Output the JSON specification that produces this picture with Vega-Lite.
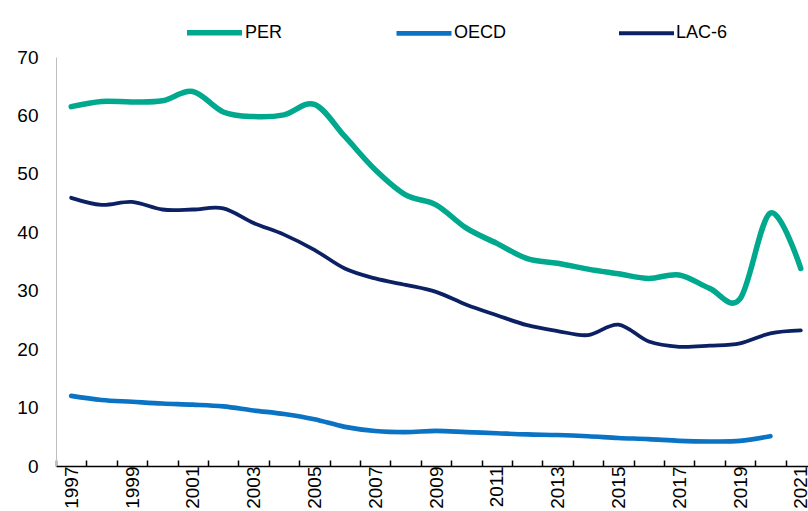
{
  "$schema": "https://vega.github.io/schema/vega-lite/v6.json",
  "width": 752,
  "height": 409,
  "autosize": "none",
  "padding": {"left": 56, "top": 57, "right": 0, "bottom": 45},
  "background": "white",
  "config": {
    "view": {"stroke": null},
    "font": "Liberation Sans Narrow, Liberation Sans, Arial Narrow, sans-serif"
  },
  "data": {
    "values": [
      {"year": 1997, "series": "PER", "value": 61.5},
      {"year": 1998, "series": "PER", "value": 62.4},
      {"year": 1999, "series": "PER", "value": 62.3},
      {"year": 2000, "series": "PER", "value": 62.5},
      {"year": 2001, "series": "PER", "value": 64.1},
      {"year": 2002, "series": "PER", "value": 60.6},
      {"year": 2003, "series": "PER", "value": 59.8},
      {"year": 2004, "series": "PER", "value": 60.1},
      {"year": 2005, "series": "PER", "value": 61.9},
      {"year": 2006, "series": "PER", "value": 56.4},
      {"year": 2007, "series": "PER", "value": 50.7},
      {"year": 2008, "series": "PER", "value": 46.4},
      {"year": 2009, "series": "PER", "value": 44.7},
      {"year": 2010, "series": "PER", "value": 40.7},
      {"year": 2011, "series": "PER", "value": 38.1},
      {"year": 2012, "series": "PER", "value": 35.5},
      {"year": 2013, "series": "PER", "value": 34.7},
      {"year": 2014, "series": "PER", "value": 33.7},
      {"year": 2015, "series": "PER", "value": 32.9},
      {"year": 2016, "series": "PER", "value": 32.1},
      {"year": 2017, "series": "PER", "value": 32.7},
      {"year": 2018, "series": "PER", "value": 30.4},
      {"year": 2019, "series": "PER", "value": 28.6},
      {"year": 2020, "series": "PER", "value": 43.3},
      {"year": 2021, "series": "PER", "value": 33.8},
      {"year": 1997, "series": "OECD", "value": 12.0},
      {"year": 1998, "series": "OECD", "value": 11.3},
      {"year": 1999, "series": "OECD", "value": 11.0},
      {"year": 2000, "series": "OECD", "value": 10.7},
      {"year": 2001, "series": "OECD", "value": 10.5},
      {"year": 2002, "series": "OECD", "value": 10.2},
      {"year": 2003, "series": "OECD", "value": 9.5},
      {"year": 2004, "series": "OECD", "value": 8.9},
      {"year": 2005, "series": "OECD", "value": 8.0},
      {"year": 2006, "series": "OECD", "value": 6.7},
      {"year": 2007, "series": "OECD", "value": 6.0},
      {"year": 2008, "series": "OECD", "value": 5.8},
      {"year": 2009, "series": "OECD", "value": 6.0},
      {"year": 2010, "series": "OECD", "value": 5.8},
      {"year": 2011, "series": "OECD", "value": 5.6},
      {"year": 2012, "series": "OECD", "value": 5.4},
      {"year": 2013, "series": "OECD", "value": 5.3},
      {"year": 2014, "series": "OECD", "value": 5.1},
      {"year": 2015, "series": "OECD", "value": 4.8},
      {"year": 2016, "series": "OECD", "value": 4.6},
      {"year": 2017, "series": "OECD", "value": 4.3},
      {"year": 2018, "series": "OECD", "value": 4.2},
      {"year": 2019, "series": "OECD", "value": 4.3},
      {"year": 2020, "series": "OECD", "value": 5.1},
      {"year": 1997, "series": "LAC-6", "value": 45.9},
      {"year": 1998, "series": "LAC-6", "value": 44.7},
      {"year": 1999, "series": "LAC-6", "value": 45.2},
      {"year": 2000, "series": "LAC-6", "value": 43.9},
      {"year": 2001, "series": "LAC-6", "value": 43.9},
      {"year": 2002, "series": "LAC-6", "value": 44.1},
      {"year": 2003, "series": "LAC-6", "value": 41.6},
      {"year": 2004, "series": "LAC-6", "value": 39.6},
      {"year": 2005, "series": "LAC-6", "value": 37.0},
      {"year": 2006, "series": "LAC-6", "value": 33.8},
      {"year": 2007, "series": "LAC-6", "value": 32.1},
      {"year": 2008, "series": "LAC-6", "value": 31.0},
      {"year": 2009, "series": "LAC-6", "value": 29.8},
      {"year": 2010, "series": "LAC-6", "value": 27.6},
      {"year": 2011, "series": "LAC-6", "value": 25.8},
      {"year": 2012, "series": "LAC-6", "value": 24.1},
      {"year": 2013, "series": "LAC-6", "value": 23.1},
      {"year": 2014, "series": "LAC-6", "value": 22.4},
      {"year": 2015, "series": "LAC-6", "value": 24.2},
      {"year": 2016, "series": "LAC-6", "value": 21.3},
      {"year": 2017, "series": "LAC-6", "value": 20.4},
      {"year": 2018, "series": "LAC-6", "value": 20.6},
      {"year": 2019, "series": "LAC-6", "value": 21.0},
      {"year": 2020, "series": "LAC-6", "value": 22.7},
      {"year": 2021, "series": "LAC-6", "value": 23.2}
    ]
  },
  "mark": {"type": "line", "interpolate": "cardinal", "strokeCap": "round", "strokeJoin": "round"},
  "encoding": {
    "x": {
      "field": "year",
      "type": "ordinal",
      "bandPosition": 0.5,
      "scale": {"type": "band", "paddingInner": 0, "paddingOuter": 0, "range": [0, 760]},
      "axis": {
        "title": null,
        "domainColor": "#000000",
        "domainWidth": 1.5,
        "tickColor": "#000000",
        "tickWidth": 1.5,
        "tickSize": -6,
        "tickBand": "extent",
        "labelAngle": 270,
        "labelAlign": "right",
        "labelBaseline": "middle",
        "labelPadding": 6,
        "labelFontSize": 19,
        "labelColor": "#000000",
        "labelExpr": "datum.value % 2 == 1 ? datum.label : ''"
      }
    },
    "y": {
      "field": "value",
      "type": "quantitative",
      "scale": {"domain": [0, 70], "nice": false, "zero": true},
      "axis": {
        "title": null,
        "values": [0, 10, 20, 30, 40, 50, 60, 70],
        "grid": false,
        "ticks": false,
        "domainColor": "#BFBFBF",
        "domainWidth": 1,
        "labelPadding": 18,
        "labelFontSize": 19,
        "labelColor": "#000000"
      }
    },
    "color": {
      "field": "series",
      "type": "nominal",
      "scale": {"domain": ["PER", "OECD", "LAC-6"], "range": ["#00A88E", "#0A73C4", "#0B2163"]},
      "legend": {
        "title": null,
        "orient": "none",
        "legendX": 128,
        "legendY": -55,
        "direction": "horizontal",
        "symbolType": "stroke",
        "symbolSize": 3025,
        "symbolStrokeWidth": 6,
        "labelFontSize": 18,
        "labelColor": "#000000",
        "labelOffset": 0,
        "columnPadding": 104
      }
    },
    "strokeWidth": {
      "field": "series",
      "type": "nominal",
      "scale": {"domain": ["PER", "OECD", "LAC-6"], "range": [5.5, 3.8, 3.8]},
      "legend": null
    }
  }
}
